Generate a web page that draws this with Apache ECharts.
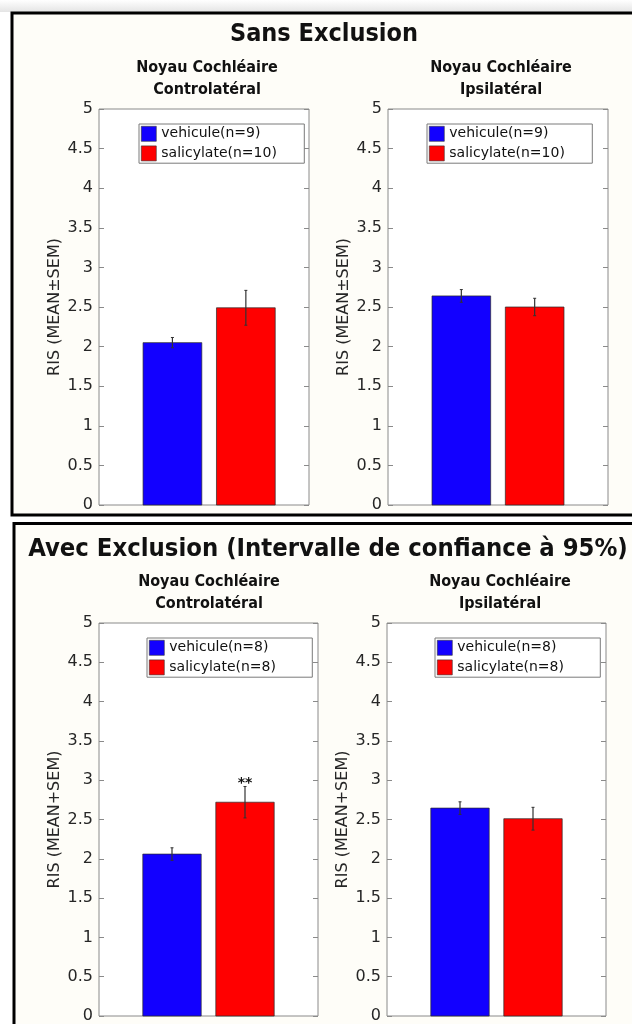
<!DOCTYPE html>
<html>
<head>
<meta charset="utf-8">
<script src="https://cdn.jsdelivr.net/npm/echarts@6/dist/echarts.min.js"></script>
<style>
  html, body { margin: 0; padding: 0; background: #ffffff; }
  #chart { width: 632px; height: 1024px; }
</style>
</head>
<body>
<div id="chart"></div>
<script>
// ---------------- DATA ----------------
const sectionTitles = ['Sans Exclusion', 'Avec Exclusion (Intervalle de confiance à 95%)'];
const panelTitles = [
  'Noyau Cochléaire\nControlatéral',
  'Noyau Cochléaire\nIpsilatéral',
  'Noyau Cochléaire\nControlatéral',
  'Noyau Cochléaire\nIpsilatéral'
];
const yAxisNames = ['RIS (MEAN±SEM)', 'RIS (MEAN±SEM)', 'RIS (MEAN+SEM)', 'RIS (MEAN+SEM)'];
const groupNames = ['vehicule', 'salicylate'];
const barPositions = [1, 2];
const vehiculeN = [9, 9, 8, 8];
const salicylateN = [10, 10, 8, 8];
const vehiculeMean = [2.05, 2.64, 2.06, 2.645];
const vehiculeSem = [0.065, 0.08, 0.08, 0.08];
const salicylateMean = [2.49, 2.50, 2.72, 2.51];
const salicylateSem = [0.22, 0.11, 0.20, 0.145];
const salicylateSig = ['', '', '**', ''];
const yMin = 0, yMax = 5, yStep = 0.5;

// ---------------- LAYOUT / STYLE ----------------
const panels = [
  { left: 99, top: 109, width: 210, height: 396, xMax: 2.86, legendLeft: 139, legendTop: 124, titleX: 202, titleTop: 52 },
  { left: 388, top: 109, width: 220, height: 396, xMax: 3, legendLeft: 427, legendTop: 124, titleX: 496, titleTop: 52 },
  { left: 99, top: 623, width: 219, height: 394, xMax: 3, legendLeft: 147, legendTop: 638, titleX: 204, titleTop: 566 },
  { left: 387, top: 623, width: 219, height: 394, xMax: 3, legendLeft: 435, legendTop: 638, titleX: 495, titleTop: 566 }
];
const colors = ['#1200ff', '#ff0000'];
const FONT = '"DejaVu Sans", sans-serif';
const FONT_COND = '"DejaVu Sans Condensed", "DejaVu Sans", sans-serif';

const chart = echarts.init(document.getElementById('chart'), null, { renderer: 'canvas' });

function makeRender(sigList) {
  return function (params, api) {
    const x = api.value(0), m = api.value(1), s = api.value(2);
    const base = api.coord([x, 0]);
    const top = api.coord([x, m]);
    const hi = api.coord([x, m + s]);
    const lo = api.coord([x, m - s]);
    const w = api.size([0.8, 0])[0];
    const children = [
      { type: 'rect', shape: { x: base[0] - w / 2, y: top[1], width: w, height: base[1] - top[1] },
        style: { fill: api.visual('color'), stroke: '#2a2a2a', lineWidth: 0.7 } },
      { type: 'line', shape: { x1: hi[0], y1: hi[1], x2: lo[0], y2: lo[1] }, style: { stroke: '#333', lineWidth: 1.2 } },
      { type: 'line', shape: { x1: hi[0] - 1.5, y1: hi[1], x2: hi[0] + 1.5, y2: hi[1] }, style: { stroke: '#333', lineWidth: 1 } },
      { type: 'line', shape: { x1: lo[0] - 1.5, y1: lo[1], x2: lo[0] + 1.5, y2: lo[1] }, style: { stroke: '#333', lineWidth: 1 } }
    ];
    const sig = sigList ? sigList[params.dataIndex] : '';
    if (sig) {
      children.push({ type: 'text', x: hi[0], y: hi[1] + 4,
        style: { text: sig, fontSize: 14, fontWeight: 'bold', fontFamily: FONT, fill: '#111', align: 'center', verticalAlign: 'bottom' } });
    }
    return { type: 'group', children: children };
  };
}

const grid = [], xAxis = [], yAxis = [], series = [], legend = [], title = [];

title.push({ text: sectionTitles[0], left: 319, top: 17, textAlign: 'center',
  textStyle: { fontFamily: FONT_COND, fontWeight: 'bold', fontSize: 25, color: '#111' } });
title.push({ text: sectionTitles[1], left: 323, top: 532, textAlign: 'center',
  textStyle: { fontFamily: FONT_COND, fontWeight: 'bold', fontSize: 25.4, color: '#111' } });

panels.forEach(function (p, i) {
  grid.push({ left: p.left, top: p.top, width: p.width, height: p.height, show: true,
    backgroundColor: '#ffffff', borderColor: '#8a8a8a', borderWidth: 1 });
  xAxis.push({ type: 'value', gridIndex: i, min: 0, max: p.xMax, show: false });
  const yCommon = { type: 'value', gridIndex: i, min: yMin, max: yMax, interval: yStep,
    splitLine: { show: false }, axisLine: { show: false } };
  yAxis.push(Object.assign({}, yCommon, {
    position: 'left',
    name: yAxisNames[i], nameLocation: 'middle', nameGap: 36,
    nameTextStyle: { fontFamily: FONT, fontSize: 16, color: '#262626' },
    axisTick: { show: true, inside: true, length: 5, lineStyle: { color: '#8a8a8a' } },
    axisLabel: { fontFamily: FONT, fontSize: 16, color: '#262626', margin: 6 }
  }));
  yAxis.push(Object.assign({}, yCommon, {
    position: 'right',
    axisTick: { show: true, inside: true, length: 5, lineStyle: { color: '#8a8a8a' } },
    axisLabel: { show: false }
  }));
  const vName = groupNames[0] + '(n=' + vehiculeN[i] + ')';
  const sName = groupNames[1] + '(n=' + salicylateN[i] + ')';
  series.push({ type: 'custom', name: vName, xAxisIndex: i, yAxisIndex: 2 * i,
    itemStyle: { color: colors[0] },
    renderItem: makeRender(null),
    data: [[barPositions[0], vehiculeMean[i], vehiculeSem[i]]] });
  series.push({ type: 'custom', name: sName, xAxisIndex: i, yAxisIndex: 2 * i,
    itemStyle: { color: colors[1] },
    renderItem: makeRender([salicylateSig[i]]),
    data: [[barPositions[1], salicylateMean[i], salicylateSem[i]]] });
  legend.push({ data: [vName, sName], left: p.legendLeft, top: p.legendTop, orient: 'vertical',
    selectedMode: false, icon: 'rect', itemWidth: 15, itemHeight: 15, itemGap: 4,
    padding: [2, 2, 2, 2], backgroundColor: '#ffffff', borderColor: '#7a7a7a', borderWidth: 1,
    itemStyle: { borderColor: '#333', borderWidth: 0.6 },
    textStyle: { fontFamily: FONT, fontSize: 14, color: '#111', width: 141, lineHeight: 15, padding: 0 } });
  title.push({ text: panelTitles[i], left: p.titleX, top: p.titleTop, textAlign: 'center',
    textStyle: { fontFamily: FONT_COND, fontWeight: 'bold', fontSize: 16, lineHeight: 22, color: '#111' } });
});

chart.setOption({
  animation: false,
  backgroundColor: '#ffffff',
  textStyle: { fontFamily: FONT },
  graphic: [
    { type: 'rect', z: -10, shape: { x: 0, y: 0, width: 632, height: 12 },
      style: { fill: new echarts.graphic.LinearGradient(0, 0, 0, 1, [{ offset: 0, color: '#ffffff' }, { offset: 1, color: '#e4e4e4' }]) } },
    { type: 'rect', z: -10, shape: { x: 12, y: 13, width: 700, height: 502 },
      style: { fill: '#fefdf8', stroke: '#000000', lineWidth: 3 } },
    { type: 'rect', z: -10, shape: { x: 14, y: 523.5, width: 700, height: 600 },
      style: { fill: '#fefdf8', stroke: '#000000', lineWidth: 3 } }
  ],
  title: title,
  legend: legend,
  grid: grid,
  xAxis: xAxis,
  yAxis: yAxis,
  series: series
});
</script>
</body>
</html>
